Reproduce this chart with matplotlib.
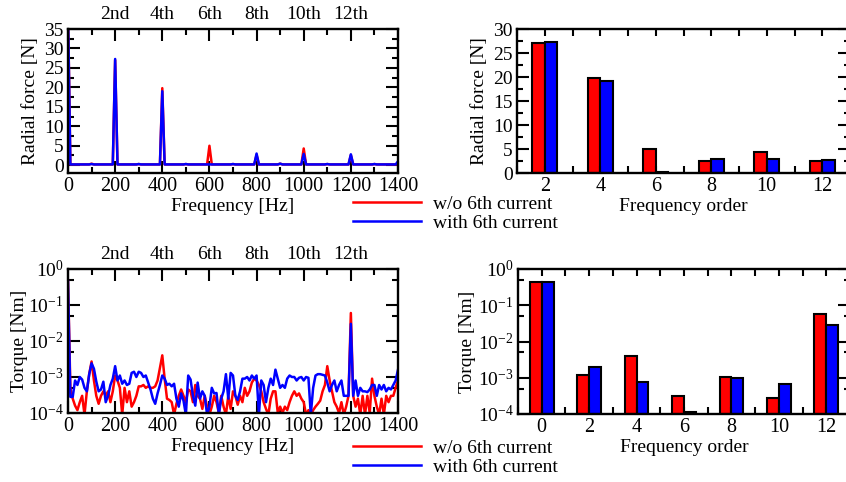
import numpy as np
import matplotlib
matplotlib.use("Agg")
import matplotlib.pyplot as plt
from matplotlib.ticker import MultipleLocator, FixedLocator, NullFormatter

plt.rcParams['font.family'] = ['Liberation Serif', 'DejaVu Serif']
plt.rcParams['mathtext.fontset'] = 'custom'
plt.rcParams['mathtext.rm'] = 'Liberation Serif'
plt.rcParams['mathtext.it'] = 'Liberation Serif:italic'
plt.rcParams['font.size'] = 14

RED = '#ff0000'
BLUE = '#0000ff'

# radial force spectrum (frequency [Hz], value [N])
force_freq = [0, 10, 90, 100, 110, 190, 200, 210, 290, 300, 310, 390, 400, 410,
              490, 500, 510, 590, 600, 610, 690, 700, 710, 790, 800, 810,
              890, 900, 910, 990, 1000, 1010, 1090, 1100, 1110, 1190, 1200, 1210,
              1290, 1300, 1310, 1390, 1400]
force_wo = [40, 0.2, 0.2, 0.4, 0.2, 0.2, 27.0, 0.2, 0.2, 0.3, 0.2, 0.2, 19.8, 0.2,
            0.2, 0.3, 0.2, 0.2, 5.0, 0.2, 0.2, 0.3, 0.2, 0.2, 2.6, 0.2,
            0.2, 0.4, 0.2, 0.2, 4.3, 0.2, 0.2, 0.3, 0.2, 0.2, 2.6, 0.2,
            0.2, 0.3, 0.2, 0.2, 0.2]
force_with = [40, 0.2, 0.2, 0.3, 0.2, 0.2, 27.3, 0.2, 0.2, 0.3, 0.2, 0.2, 19.0, 0.2,
              0.2, 0.3, 0.2, 0.2, 0.2, 0.2, 0.2, 0.3, 0.2, 0.2, 3.0, 0.2,
              0.2, 0.4, 0.2, 0.2, 2.9, 0.2, 0.2, 0.3, 0.2, 0.2, 2.8, 0.2,
              0.2, 0.3, 0.2, 0.2, 1.0]

# torque spectrum, 10 Hz steps from 0 to 1400 Hz
torque_freq = np.arange(0, 1410, 10)
torque_wo = [
    0.47, 5e-4, 2.5e-4, 1.6e-4, 1.2e-4, 2e-4, 3e-4, 9e-5, 4e-4, 1.2e-3,
    2.7e-3, 8e-4, 3e-4, 1.8e-4, 3e-4, 4e-4, 3e-4, 4e-4, 2e-4, 4e-4,
    1.1e-3, 8e-4, 5e-4, 9e-5, 5e-4, 2e-4, 4e-4, 1.5e-4, 2e-4, 3e-4,
    5.5e-4, 5.5e-4, 6e-4, 5e-4, 5.5e-4, 5e-4, 5e-4, 5.5e-4, 8e-4, 1.8e-3,
    4e-3, 9e-4, 2.5e-4, 2.3e-4, 2e-4, 9e-5, 1.8e-4, 3e-4, 4.5e-4, 3e-4,
    2e-4, 4.5e-4, 4e-4, 2e-4, 6e-4, 3e-4, 2.5e-4, 1.3e-4, 3e-4, 1.5e-4,
    9e-5, 1.5e-4, 3e-4, 2e-4, 1e-4, 3e-4, 1.5e-4, 9e-5, 3e-4, 1.3e-4,
    4e-4, 3e-4, 1.7e-4, 3e-4, 2e-4, 5e-4, 3e-4, 4e-4, 7e-4, 9e-4,
    8e-4, 6e-4, 4e-4, 2e-4, 1.3e-4, 9e-5, 2.5e-4, 4e-4, 4e-4, 1e-4,
    1.5e-4, 1e-4, 1.5e-4, 1.2e-4, 2e-4, 3e-4, 4e-4, 3e-4, 3.5e-4, 2.5e-4,
    2e-4, 9e-5, 1.2e-4, 9e-5, 1.2e-4, 1.5e-4, 1.8e-4, 2.2e-4, 4e-4, 6e-4,
    2e-3, 8e-4, 4e-4, 2e-4, 1.5e-4, 1e-4, 2e-4, 9e-5, 1.5e-4, 3e-4,
    0.06, 3e-4, 1.5e-4, 2.5e-4, 9e-5, 3e-4, 9e-5, 3e-4, 1e-4, 9e-4,
    3e-4, 1.5e-4, 9e-5, 2.5e-4, 9e-5, 3e-4, 2e-4, 3e-4, 3e-4, 5e-4,
    8e-4]
torque_with = [
    0.47, 2.8e-4, 2.8e-4, 8e-4, 6e-4, 1.0e-3, 8.5e-4, 5e-4, 4e-4, 1.2e-3,
    2.4e-3, 1.7e-3, 7.5e-4, 4e-4, 4.5e-4, 7.4e-4, 2e-4, 3e-4, 6e-4, 9e-4,
    2.0e-3, 8e-4, 1.1e-3, 6.5e-4, 8e-4, 6e-4, 6.5e-4, 1.3e-3, 1.4e-3, 1.0e-3,
    1.4e-3, 1.3e-3, 1.0e-3, 1.1e-3, 7e-4, 4.5e-4, 2.5e-4, 1.8e-4, 3.5e-4, 6e-4,
    1.1e-3, 9e-4, 6e-4, 6.5e-4, 5.5e-4, 6.5e-4, 2.5e-4, 1.5e-4, 3.5e-4, 2.2e-4,
    9e-5, 1.1e-3, 8.5e-4, 3e-4, 1.6e-4, 7e-4, 2.5e-4, 4e-4, 3e-4, 9e-5,
    1.5e-4, 5e-4, 3.5e-4, 3.6e-4, 9e-5, 2.5e-4, 4e-4, 1.2e-3, 2.5e-4, 1.3e-3,
    1.1e-3, 3e-4, 2.3e-4, 4e-4, 9e-4, 9e-4, 1.0e-3, 8e-4, 1.1e-3, 9e-4,
    1.1e-3, 9e-5, 8e-4, 6e-4, 2e-4, 5e-4, 9e-4, 6e-4, 1.6e-3, 9e-4,
    5e-4, 6e-4, 5e-4, 9e-4, 1.1e-3, 1.0e-3, 1.0e-3, 8e-4, 9.5e-4, 1.0e-3,
    8e-4, 1.0e-3, 9.5e-4, 9e-5, 5e-4, 1.1e-3, 1.2e-3, 1.2e-3, 1.15e-3, 1.1e-3,
    7e-4, 4e-4, 6e-4, 8e-4, 4e-4, 6e-4, 8e-4, 3e-4, 3e-4, 3e-4,
    0.03, 3e-4, 8e-4, 3e-4, 5e-4, 4e-4, 4e-4, 3.8e-4, 4.5e-4, 6e-4,
    6e-4, 3e-4, 6e-4, 4.5e-4, 6e-4, 4e-4, 5e-4, 4.5e-4, 6e-4, 8e-4,
    1.6e-3]

# harmonic amplitudes
force_order = [2, 4, 6, 8, 10, 12]
force_bar_wo = [27.0, 19.7, 4.9, 2.6, 4.3, 2.6]
force_bar_with = [27.3, 19.1, 0.3, 3.0, 3.0, 2.8]
torque_order = [0, 2, 4, 6, 8, 10, 12]
torque_bar_wo = [0.45, 1.2e-3, 4.0e-3, 3.2e-4, 1.05e-3, 2.7e-4, 0.058]
torque_bar_with = [0.45, 2.0e-3, 7.5e-4, 1.15e-4, 1.0e-3, 6.8e-4, 0.028]

harm_pos = [200, 400, 600, 800, 1000, 1200]
harm_lab = ['2nd', '4th', '6th', '8th', '10th', '12th']


def style(ax):
    for s in ax.spines.values():
        s.set_linewidth(1.7)
    ax.tick_params(which='both', direction='in', top=True, right=True, width=1.5, pad=3)
    ax.tick_params(which='major', length=8.5)
    ax.tick_params(which='minor', length=4.5)
    ax.tick_params(axis='x', labelsize=14.5)


def log_y(ax):
    ax.set_yscale('log')
    ax.set_ylim(1e-4, 1)
    ax.yaxis.set_major_locator(FixedLocator([1e-4, 1e-3, 1e-2, 1e-1, 1]))
    ax.yaxis.set_minor_locator(FixedLocator([5e-4, 5e-3, 5e-2, 5e-1]))
    ax.yaxis.set_minor_formatter(NullFormatter())


def top_orders(ax):
    sec = ax.secondary_xaxis('top')
    sec.set_xticks(harm_pos, labels=harm_lab)
    sec.tick_params(length=0, pad=4)
    sec.spines['top'].set_visible(False)


fig = plt.figure(figsize=(8.46, 4.82), dpi=100)
W, H = 846, 482


def add_ax(x0, y0, x1, y1):
    return fig.add_axes([x0 / W, 1 - y1 / H, (x1 - x0) / W, (y1 - y0) / H])


# top left: radial force spectrum
ax1 = add_ax(68, 29, 398, 173)
l1, = ax1.plot(force_freq, force_wo, color=RED, lw=1.8)
l2, = ax1.plot(force_freq, force_with, color=BLUE, lw=1.8)
ax1.set_xlim(0, 1400)
ax1.set_ylim(-2, 35)
ax1.xaxis.set_major_locator(MultipleLocator(200))
ax1.xaxis.set_minor_locator(MultipleLocator(100))
ax1.yaxis.set_major_locator(MultipleLocator(5))
ax1.yaxis.set_minor_locator(MultipleLocator(2.5))
ax1.set_xlabel('Frequency [Hz]', labelpad=1)
ax1.set_ylabel('Radial force [N]', labelpad=4)
style(ax1)
top_orders(ax1)

# top right: radial force bars
ax2 = add_ax(517, 29, 850, 173)
bw = 0.45
x = np.array(force_order)
ax2.bar(x - bw / 2, force_bar_wo, bw, color=RED, edgecolor='black', lw=1.5)
ax2.bar(x + bw / 2, force_bar_with, bw, color=BLUE, edgecolor='black', lw=1.5)
ax2.set_xlim(1, 13)
ax2.set_ylim(0, 30)
ax2.xaxis.set_major_locator(MultipleLocator(2))
ax2.xaxis.set_minor_locator(MultipleLocator(1))
ax2.yaxis.set_major_locator(MultipleLocator(5))
ax2.yaxis.set_minor_locator(MultipleLocator(2.5))
ax2.set_xlabel('Frequency order', labelpad=1)
ax2.set_ylabel('Radial force [N]', labelpad=4)
style(ax2)
ax2.tick_params(axis='x', which='both', length=5)

# bottom left: torque spectrum
ax3 = add_ax(68, 269, 398, 413)
l3, = ax3.plot(torque_freq, torque_wo, color=RED, lw=1.8)
l4, = ax3.plot(torque_freq, torque_with, color=BLUE, lw=1.8)
ax3.set_xlim(0, 1400)
log_y(ax3)
ax3.xaxis.set_major_locator(MultipleLocator(200))
ax3.xaxis.set_minor_locator(MultipleLocator(100))
ax3.set_xlabel('Frequency [Hz]', labelpad=1)
ax3.set_ylabel('Torque [Nm]', labelpad=0)
style(ax3)
top_orders(ax3)

# bottom right: torque bars
ax4 = add_ax(518, 269, 850, 414)
bw = 0.5
x = np.array(torque_order)
ax4.bar(x - bw / 2, np.array(torque_bar_wo) - 1e-4, bw, bottom=1e-4,
        color=RED, edgecolor='black', lw=1.5)
ax4.bar(x + bw / 2, np.array(torque_bar_with) - 1e-4, bw, bottom=1e-4,
        color=BLUE, edgecolor='black', lw=1.5)
ax4.set_xlim(-1, 13)
log_y(ax4)
ax4.xaxis.set_major_locator(MultipleLocator(2))
ax4.xaxis.set_minor_locator(MultipleLocator(1))
ax4.set_xlabel('Frequency order', labelpad=1)
ax4.set_ylabel('Torque [Nm]', labelpad=1)
style(ax4)
ax4.tick_params(axis='x', which='both', length=5)

leg_kw = dict(loc='upper left', frameon=False, borderpad=0, borderaxespad=0,
              handlelength=3.5, handletextpad=0.6, labelspacing=0.1)
fig.legend([l1, l2], ['w/o 6th current', 'with 6th current'],
           bbox_to_anchor=(353 / W, 1 - 195 / H), **leg_kw)
fig.legend([l3, l4], ['w/o 6th current', 'with 6th current'],
           bbox_to_anchor=(353 / W, 1 - 439 / H), **leg_kw)

fig.savefig('out.png', dpi=100)
